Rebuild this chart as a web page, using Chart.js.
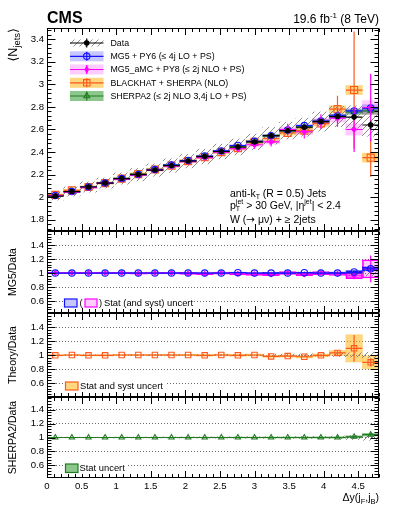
<!DOCTYPE html>
<html>
<head>
<meta charset="utf-8">
<script src="https://cdn.jsdelivr.net/npm/chart.js@4.4.1/dist/chart.umd.min.js"></script>
<style>
  html, body { margin: 0; padding: 0; background: #fff; }
  #grafico { display: block; background: #fff; }
</style>
</head>
<body>
<canvas id="grafico" width="399" height="516" style="width:399px;height:516px"></canvas>
<script>
// bin centres of dy(jF, jB), bins are 0.24 wide
const deltaY = [0.12, 0.36, 0.6, 0.84, 1.08, 1.32, 1.56, 1.8, 2.04, 2.28, 2.52, 2.76, 3.0, 3.24, 3.48, 3.72, 3.96, 4.2, 4.44, 4.68];
const binHalf = 0.12;

// <N jets> panel
const nJetsData = [2.01, 2.05, 2.09, 2.125, 2.165, 2.20, 2.24, 2.28, 2.32, 2.36, 2.405, 2.445, 2.49, 2.545, 2.59, 2.62, 2.67, 2.715, 2.71, 2.64];
const dataSyst = [0.035, 0.04, 0.045, 0.045, 0.05, 0.055, 0.055, 0.06, 0.06, 0.065, 0.065, 0.07, 0.07, 0.075, 0.075, 0.08, 0.085, 0.09, 0.1, 0.1];
const dataStat = [0.004, 0.004, 0.004, 0.004, 0.004, 0.005, 0.005, 0.005, 0.006, 0.006, 0.007, 0.008, 0.009, 0.01, 0.011, 0.013, 0.015, 0.018, 0.025, 0.035];

const mg5 = [2.015, 2.05, 2.09, 2.125, 2.165, 2.20, 2.245, 2.285, 2.325, 2.365, 2.41, 2.458, 2.495, 2.545, 2.595, 2.635, 2.675, 2.72, 2.765, 2.79];
const mg5Stat = [0.004, 0.004, 0.004, 0.005, 0.005, 0.005, 0.006, 0.006, 0.006, 0.007, 0.007, 0.008, 0.009, 0.01, 0.011, 0.012, 0.014, 0.016, 0.02, 0.03];

const amc = [2.015, 2.045, 2.085, 2.125, 2.16, 2.195, 2.24, 2.275, 2.315, 2.35, 2.40, 2.43, 2.465, 2.49, 2.60, 2.58, 2.67, 2.70, 2.60, 2.795];
const amcErr = [0.01, 0.01, 0.012, 0.012, 0.014, 0.015, 0.017, 0.018, 0.02, 0.022, 0.025, 0.03, 0.035, 0.04, 0.05, 0.06, 0.065, 0.075, 0.2, 0.3];
const amcBand = [0.005, 0.005, 0.006, 0.006, 0.007, 0.007, 0.008, 0.009, 0.01, 0.011, 0.012, 0.014, 0.016, 0.018, 0.022, 0.025, 0.03, 0.035, 0.05, 0.06];

const bh = [2.02, 2.06, 2.09, 2.125, 2.165, 2.205, 2.245, 2.28, 2.32, 2.355, 2.40, 2.435, 2.49, 2.52, 2.57, 2.59, 2.655, 2.78, 2.95, 2.35];
const bhErr = [0.008, 0.008, 0.009, 0.009, 0.01, 0.01, 0.011, 0.012, 0.013, 0.014, 0.015, 0.017, 0.019, 0.022, 0.025, 0.03, 0.04, 0.12, 0.52, 0.17];
const bhBand = [0.01, 0.01, 0.01, 0.011, 0.011, 0.012, 0.012, 0.013, 0.013, 0.014, 0.015, 0.016, 0.017, 0.018, 0.02, 0.022, 0.025, 0.03, 0.04, 0.04];

const sherpa = [2.015, 2.05, 2.09, 2.125, 2.165, 2.205, 2.245, 2.285, 2.32, 2.36, 2.405, 2.445, 2.49, 2.545, 2.59, 2.625, 2.67, 2.72, 2.755, 2.765];
const sherpaStat = [0.004, 0.004, 0.004, 0.005, 0.005, 0.005, 0.006, 0.006, 0.006, 0.007, 0.007, 0.008, 0.009, 0.01, 0.011, 0.012, 0.014, 0.016, 0.02, 0.03];

// ratio panels
const ratioDataUnc = [0.005, 0.005, 0.005, 0.005, 0.006, 0.006, 0.007, 0.007, 0.008, 0.008, 0.009, 0.01, 0.011, 0.012, 0.013, 0.015, 0.017, 0.022, 0.03, 0.04];
const ratioMg5 = [1.0, 1.0, 1.0, 1.0, 1.0, 1.0, 1.0, 1.0, 1.0, 1.0, 1.0, 1.005, 1.0, 1.0, 1.0, 1.005, 1.0, 1.0, 1.015, 1.06];
const ratioMg5Unc = [0.004, 0.004, 0.004, 0.005, 0.005, 0.005, 0.006, 0.006, 0.006, 0.007, 0.007, 0.008, 0.008, 0.009, 0.01, 0.01, 0.012, 0.014, 0.02, 0.03];
const ratioAmc = [1.0, 1.0, 1.0, 1.0, 1.0, 0.995, 1.0, 1.0, 0.995, 0.99, 1.0, 0.99, 0.985, 0.98, 1.0, 0.98, 1.0, 0.99, 0.96, 1.06];
const ratioAmcUnc = [0.01, 0.01, 0.01, 0.01, 0.01, 0.012, 0.012, 0.012, 0.014, 0.014, 0.015, 0.016, 0.018, 0.018, 0.02, 0.02, 0.022, 0.025, 0.04, 0.13];
const ratioAmcErr = [0.005, 0.005, 0.006, 0.006, 0.007, 0.007, 0.008, 0.009, 0.01, 0.011, 0.012, 0.014, 0.016, 0.018, 0.02, 0.022, 0.025, 0.03, 0.05, 0.19];
const ratioBh = [0.995, 1.0, 0.995, 0.995, 1.0, 1.0, 1.0, 1.0, 1.0, 0.995, 1.0, 0.995, 1.0, 0.98, 0.985, 0.975, 0.995, 1.03, 1.095, 0.895];
const ratioBhUnc = [0.008, 0.008, 0.008, 0.009, 0.009, 0.01, 0.01, 0.011, 0.011, 0.012, 0.012, 0.013, 0.014, 0.015, 0.016, 0.018, 0.02, 0.035, 0.195, 0.09];
const ratioBhErr = [0.004, 0.004, 0.004, 0.005, 0.005, 0.005, 0.006, 0.006, 0.006, 0.007, 0.007, 0.008, 0.008, 0.009, 0.01, 0.012, 0.015, 0.03, 0.19, 0.06];
const ratioSherpa = [1.0, 1.0, 1.0, 1.0, 1.0, 1.0, 1.0, 1.0, 1.0, 1.0, 1.0, 1.0, 1.0, 1.0, 1.0, 1.0, 1.0, 1.0, 1.01, 1.04];
const ratioSherpaUnc = [0.003, 0.003, 0.003, 0.003, 0.004, 0.004, 0.004, 0.004, 0.005, 0.005, 0.005, 0.006, 0.006, 0.007, 0.007, 0.008, 0.009, 0.01, 0.015, 0.02];
const ratioOne = [1, 1, 1, 1, 1, 1, 1, 1, 1, 1, 1, 1, 1, 1, 1, 1, 1, 1, 1, 1];

// axis ticks
const xTicks = [0, 0.5, 1, 1.5, 2, 2.5, 3, 3.5, 4, 4.5];
const yTicksTop = [1.8, 2, 2.2, 2.4, 2.6, 2.8, 3, 3.2, 3.4];
const yTicksRatio = [0.6, 0.8, 1, 1.2, 1.4];

const legendLabels = ['Data', 'MG5 + PY6 (≤ 4j LO + PS)', 'MG5_aMC + PY8 (≤ 2j NLO + PS)', 'BLACKHAT + SHERPA (NLO)', 'SHERPA2 (≤ 2j NLO 3,4j LO + PS)'];

const FONT = '"Liberation Sans", "DejaVu Sans", sans-serif';
const f = (size, bold) => (bold ? 'bold ' : '') + size + 'px ' + FONT;

const BLUE = '#1414ff', MAGENTA = '#ff00ff', ORANGE = '#ff5a1e', GREEN = '#237a23';
const BLUE_BAND = 'rgba(0,0,255,0.22)', MAG_BAND = 'rgba(255,0,255,0.2)';
const ORANGE_BAND = 'rgba(255,175,0,0.5)', GREEN_BAND = 'rgba(0,130,0,0.45)';

function hatch() {
  const c = document.createElement('canvas');
  c.width = 6; c.height = 6;
  const g = c.getContext('2d');
  g.strokeStyle = '#808080';
  g.lineWidth = 0.9;
  g.beginPath();
  g.moveTo(0, 6); g.lineTo(6, 0);
  g.moveTo(-1, 1); g.lineTo(1, -1);
  g.moveTo(5, 7); g.lineTo(7, 5);
  g.stroke();
  return g.createPattern(c, 'repeat');
}
const HATCH = hatch();

function band(values, unc, axis, color, order, border) {
  return {
    type: 'bar', yAxisID: axis, order: order, grouped: false,
    data: deltaY.map((x, i) => ({ x: x, y: [values[i] - unc[i], values[i] + unc[i]] })),
    backgroundColor: color,
    borderColor: border || 'rgba(0,0,0,0)',
    borderWidth: border ? 1 : 0,
    borderSkipped: false,
    barPercentage: 1, categoryPercentage: 1
  };
}

function points(values, err, axis, color, style, radius, filled, order) {
  return {
    type: 'scatter', yAxisID: axis, order: order,
    data: deltaY.map((x, i) => ({ x: x, y: values[i] })),
    errY: err,
    borderColor: color,
    pointBorderColor: color,
    pointBackgroundColor: filled ? color : 'rgba(0,0,0,0)',
    pointStyle: style, pointRadius: radius, pointBorderWidth: 1.1
  };
}

function marker(ctx, style, x, y, r, color, filled) {
  ctx.save();
  ctx.strokeStyle = color; ctx.fillStyle = color; ctx.lineWidth = 1.1;
  ctx.beginPath();
  if (style === 'circle') ctx.arc(x, y, r, 0, Math.PI * 2);
  else if (style === 'rect') { const s = r * Math.SQRT1_2; ctx.rect(x - s, y - s, 2 * s, 2 * s); }
  else if (style === 'triangle') { ctx.moveTo(x, y - r); ctx.lineTo(x + r * 0.866, y + r * 0.5); ctx.lineTo(x - r * 0.866, y + r * 0.5); ctx.closePath(); }
  else if (style === 'rectRot') { ctx.moveTo(x, y - r); ctx.lineTo(x + r * 0.6, y); ctx.lineTo(x, y + r); ctx.lineTo(x - r * 0.6, y); ctx.closePath(); }
  if (filled) ctx.fill();
  ctx.stroke();
  ctx.restore();
}

function rich(ctx, x, y, parts, align) {
  let w = 0;
  parts.forEach(p => { ctx.font = p.f; p.w = ctx.measureText(p.t).width; if (!p.keep) w += p.w; });
  let cx = align === 'right' ? x - w : align === 'center' ? x - w / 2 : x;
  ctx.textAlign = 'left';
  parts.forEach(p => {
    ctx.font = p.f;
    ctx.fillText(p.t, cx, y + (p.dy || 0));
    if (!p.keep) cx += p.w;
  });
  return cx;
}

const legendStyles = [
  { band: HATCH, color: '#000', style: 'circle', r: 2.2, filled: true, h: 7 },
  { band: BLUE_BAND, color: BLUE, style: 'circle', r: 3.2, filled: false, h: 10 },
  { band: MAG_BAND, color: MAGENTA, style: 'rectRot', r: 3, filled: true, h: 10 },
  { band: ORANGE_BAND, color: ORANGE, style: 'rect', r: 4.5, filled: false, h: 10 },
  { band: GREEN_BAND, color: GREEN, style: 'triangle', r: 3.4, filled: false, h: 10 }
];

const rootStyle = {
  id: 'rootStyle',
  beforeDatasetDraw(chart, args) {
    const ds = chart.data.datasets[args.index];
    if (!ds.errY) return;
    const xs = chart.scales.x, ys = chart.scales[ds.yAxisID], ctx = chart.ctx;
    const area = chart.chartArea;
    ctx.save();
    ctx.beginPath();
    ctx.rect(area.left, ys.top, area.right - area.left, ys.bottom - ys.top);
    ctx.clip();
    ctx.strokeStyle = ds.borderColor;
    ctx.lineWidth = 1.2;
    ds.data.forEach((p, i) => {
      const x0 = xs.getPixelForValue(p.x - binHalf), x1 = xs.getPixelForValue(p.x + binHalf);
      const xc = xs.getPixelForValue(p.x), y = ys.getPixelForValue(p.y);
      ctx.beginPath();
      ctx.moveTo(x0, y); ctx.lineTo(x1, y);
      ctx.moveTo(xc, ys.getPixelForValue(p.y - ds.errY[i]));
      ctx.lineTo(xc, ys.getPixelForValue(p.y + ds.errY[i]));
      ctx.stroke();
    });
    ctx.restore();
  },
  afterDraw(chart) {
    const ctx = chart.ctx, xs = chart.scales.x;
    const L = Math.round(chart.chartArea.left) + 0.5, R = Math.round(chart.chartArea.right) - 0.5;
    ctx.save();
    ctx.strokeStyle = '#000';
    ctx.lineWidth = 1;
    // frames and inward ticks
    ['yN', 'yM', 'yT', 'yS'].forEach(id => {
      const s = chart.scales[id];
      const t = Math.round(s.top) + 0.5, b = Math.round(s.bottom) - 0.5;
      ctx.beginPath();
      for (let k = 0; k <= 48; k++) {
        const x = Math.round(xs.getPixelForValue(k / 10)) + 0.5;
        const len = k % 5 === 0 ? 6.5 : 3.5;
        ctx.moveTo(x, t); ctx.lineTo(x, t + len);
        ctx.moveTo(x, b); ctx.lineTo(x, b - len);
      }
      for (let k = Math.ceil(s.min / 0.04 - 1e-6); k * 0.04 <= s.max + 1e-9; k++) {
        const y = Math.round(s.getPixelForValue(k * 0.04)) + 0.5;
        const len = k % 5 === 0 ? 8 : 4;
        ctx.moveTo(L, y); ctx.lineTo(L + len, y);
        ctx.moveTo(R, y); ctx.lineTo(R - len, y);
      }
      ctx.stroke();
      ctx.strokeRect(L, t, R - L, b - t);
    });

    ctx.fillStyle = '#000';
    ctx.textBaseline = 'alphabetic';
    // header
    ctx.font = f(16, true);
    ctx.textAlign = 'left';
    ctx.fillText('CMS', 47, 22.5);
    rich(ctx, 379, 22.5, [
      { t: '19.6 fb', f: f(12) }, { t: '-1', f: f(8), dy: -5 }, { t: ' (8 TeV)', f: f(12) }
    ], 'right');

    // y titles
    ctx.save();
    ctx.translate(16.5, 28);
    ctx.rotate(-Math.PI / 2);
    rich(ctx, 0, 0, [
      { t: '⟨N', f: f(12.5) }, { t: 'jets', f: f(9.5), dy: 3.5 }, { t: '⟩', f: f(12.5) }
    ], 'right');
    ctx.restore();
    [['yM', 'MG5/Data'], ['yT', 'Theory/Data'], ['yS', 'SHERPA2/Data']].forEach(([id, label]) => {
      const s = chart.scales[id];
      ctx.save();
      ctx.translate(15.5, (s.top + s.bottom) / 2);
      ctx.rotate(-Math.PI / 2);
      ctx.font = f(10.5);
      ctx.textAlign = 'center';
      ctx.fillText(label, 0, 0);
      ctx.restore();
    });

    // x title
    rich(ctx, 379, 500.5, [
      { t: 'Δy(j', f: f(10.5) }, { t: 'F', f: f(7.5), dy: 3 }, { t: ',j', f: f(10.5) },
      { t: 'B', f: f(7.5), dy: 3 }, { t: ')', f: f(10.5) }
    ], 'right');

    // selection text
    rich(ctx, 230, 196.5, [
      { t: 'anti-k', f: f(10.5) }, { t: 'T', f: f(7), dy: 2.5 }, { t: ' (R = 0.5) Jets', f: f(10.5) }
    ], 'left');
    rich(ctx, 230, 208.5, [
      { t: 'p', f: f(10.5) }, { t: 'T', f: f(7), dy: 2.5, keep: true }, { t: 'jet', f: f(7), dy: -4.5 },
      { t: ' > 30 GeV, |η', f: f(10.5) }, { t: 'jet', f: f(7), dy: -4.5 }, { t: '| < 2.4', f: f(10.5) }
    ], 'left');
    rich(ctx, 230, 222.5, [
      { t: 'W (', f: f(10.5) }, { t: '→', f: '10.5px "DejaVu Sans", sans-serif' }, { t: ' μν) + ≥ 2jets', f: f(10.5) }
    ], 'left');

    // main legend
    const legendY = [43, 56.3, 69.5, 82.8, 96];
    legendStyles.forEach((st, i) => {
      const y = legendY[i], x0 = 70, x1 = 103.5, xc = (x0 + x1) / 2;
      ctx.fillStyle = st.band;
      ctx.fillRect(x0, y - st.h / 2, x1 - x0, st.h);
      ctx.strokeStyle = st.color;
      ctx.lineWidth = 1.2;
      ctx.beginPath();
      ctx.moveTo(x0, y); ctx.lineTo(x1, y);
      ctx.moveTo(xc, y - 4.5); ctx.lineTo(xc, y + 4.5);
      ctx.stroke();
      marker(ctx, st.style, xc, y, st.r, st.color, st.filled);
      ctx.fillStyle = '#000';
      ctx.font = f(8.8);
      ctx.textAlign = 'left';
      ctx.textBaseline = 'middle';
      ctx.fillText(legendLabels[i], 110.5, y + 0.5);
    });

    // ratio legends
    ctx.textBaseline = 'middle';
    ctx.textAlign = 'left';
    ctx.font = f(9.4);
    ctx.fillStyle = '#fff';
    ctx.fillRect(63, 297, 130, 11);
    ctx.fillRect(63, 380, 102, 12);
    ctx.fillRect(63, 462, 64, 12);
    const box = (x, y, w, h, fill, line) => {
      ctx.fillStyle = fill; ctx.fillRect(x, y, w, h);
      ctx.strokeStyle = line; ctx.lineWidth = 1.2; ctx.strokeRect(x, y, w, h);
    };
    box(64.5, 299, 12.5, 8, BLUE_BAND, BLUE);
    box(85, 299, 12, 8, MAG_BAND, MAGENTA);
    ctx.fillStyle = '#000';
    ctx.fillText('(', 79.5, 303.5);
    ctx.fillText(')', 99, 303.5);
    ctx.fillText('Stat (and syst) uncert', 104, 303.5);
    box(65.5, 382, 12.5, 8, ORANGE_BAND, ORANGE);
    ctx.fillStyle = '#000';
    ctx.fillText('Stat and syst uncert', 80, 386.5);
    box(65.5, 464, 12.5, 8.5, GREEN_BAND, GREEN);
    ctx.fillStyle = '#000';
    ctx.fillText('Stat uncert', 79.5, 468.5);
    ctx.restore();
  }
};

function ratioAxis(weight, stackWeight, min, max) {
  return {
    type: 'linear', position: 'left', stack: 'panels', stackWeight: stackWeight, weight: weight,
    min: min, max: max,
    afterBuildTicks: s => { s.ticks = yTicksRatio.map(v => ({ value: v })); },
    afterFit: s => { s.width = 47; },
    grid: { color: '#6a6a6a', lineWidth: 1, drawTicks: false },
    border: { display: false, dash: [1, 2] },
    ticks: { font: { size: 9.6 }, color: '#000', padding: 3, autoSkip: false, callback: v => String(v) }
  };
}

Chart.defaults.font.family = FONT;

const ctx = document.getElementById('grafico').getContext('2d');

new Chart(ctx, {
  type: 'scatter',
  data: {
    datasets: [
      // top panel
      points(nJetsData, dataStat, 'yN', '#000', 'circle', 2.2, true, 0),
      points(amc, amcErr, 'yN', MAGENTA, 'rectRot', 2.4, true, 1),
      points(mg5, mg5Stat, 'yN', BLUE, 'circle', 3.2, false, 2),
      points(sherpa, sherpaStat, 'yN', GREEN, 'triangle', 3.2, false, 3),
      points(bh, bhErr, 'yN', ORANGE, 'rect', 5, false, 4),
      band(nJetsData, dataSyst, 'yN', HATCH, 9),
      band(mg5, mg5Stat, 'yN', BLUE_BAND, 10),
      band(amc, amcBand, 'yN', MAG_BAND, 11),
      band(sherpa, sherpaStat, 'yN', GREEN_BAND, 12),
      band(bh, bhBand, 'yN', ORANGE_BAND, 13),
      // MG5 / data
      points(ratioMg5, ratioMg5Unc, 'yM', BLUE, 'circle', 3.2, false, 0),
      points(ratioAmc, ratioAmcErr, 'yM', MAGENTA, 'rectRot', 2.2, true, 1),
      band(ratioOne, ratioDataUnc, 'yM', HATCH, 5),
      band(ratioMg5, ratioMg5Unc, 'yM', BLUE_BAND, 6, BLUE),
      band(ratioAmc, ratioAmcUnc, 'yM', MAG_BAND, 7, MAGENTA),
      // theory / data
      points(ratioBh, ratioBhErr, 'yT', ORANGE, 'rect', 3.8, false, 0),
      band(ratioOne, ratioDataUnc, 'yT', HATCH, 5),
      band(ratioBh, ratioBhUnc, 'yT', ORANGE_BAND, 6),
      // sherpa2 / data
      points(ratioSherpa, ratioSherpaUnc, 'yS', GREEN, 'triangle', 3, false, 0),
      band(ratioOne, ratioDataUnc, 'yS', HATCH, 5),
      band(ratioSherpa, ratioSherpaUnc, 'yS', GREEN_BAND, 6)
    ]
  },
  options: {
    responsive: false,
    animation: false,
    devicePixelRatio: 1,
    events: [],
    layout: { padding: { top: 28, right: 20, left: 0, bottom: 0 } },
    plugins: { legend: { display: false }, tooltip: { enabled: false } },
    scales: {
      x: {
        type: 'linear', min: 0, max: 4.8, offset: false,
        afterBuildTicks: s => { s.ticks = xTicks.map(v => ({ value: v })); },
        afterFit: s => { s.height = 38; },
        grid: { display: false, drawTicks: false },
        border: { display: false },
        ticks: { font: { size: 9.6 }, color: '#000', padding: 3, autoSkip: false, maxRotation: 0, callback: v => String(v) }
      },
      yS: ratioAxis(1, 81, 0.42, 1.58),
      yT: ratioAxis(2, 84, 0.4, 1.6),
      yM: ratioAxis(3, 82, 0.43, 1.6),
      yN: {
        type: 'linear', position: 'left', stack: 'panels', stackWeight: 203, weight: 4,
        min: 1.7, max: 3.5,
        afterBuildTicks: s => { s.ticks = yTicksTop.map(v => ({ value: v })); },
        afterFit: s => { s.width = 47; },
        grid: { display: false, drawTicks: false },
        border: { display: false },
        ticks: { font: { size: 9.6 }, color: '#000', padding: 3, autoSkip: false, callback: v => String(v) }
      }
    }
  },
  plugins: [rootStyle]
});
</script>
</body>
</html>
